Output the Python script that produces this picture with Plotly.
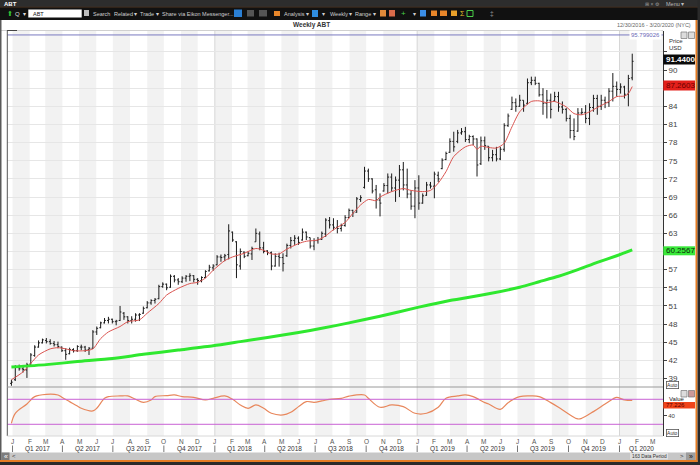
import pandas as pd
import plotly.graph_objects as go

W, H = 700, 465
def fx(p): return p / W
def fy(p): return 1 - p / H

# ---------------- data ----------------
first_week = "2016-12-30"
opens = [38.2, 38.8, 40.8, 40.6, 40.4, 41.4, 42.8, 44.2, 44.9, 45.3,
         45.1, 44.8, 44.6, 44.2, 43.6, 43.1, 43.8, 43.6, 44.2, 44.2,
         43.8, 44.0, 46.7, 47.4, 48.2, 48.6, 48.8, 48.4, 48.6, 49.8,
         49.2, 48.6, 48.8, 49.5, 49.8, 50.7, 51.5, 51.9, 52.2, 54.2,
         54.6, 54.1, 55.9, 55.3, 55.0, 55.6, 55.9, 56.0, 55.4, 55.2,
         55.7, 56.8, 57.3, 57.8, 59.1, 59.1, 59.5, 63.2, 61.6, 57.6,
         59.9, 59.3, 59.6, 61.6, 62.9, 60.6, 60.1, 59.8, 57.6, 59.2,
         59.0, 59.3, 61.0, 61.8, 62.2, 61.9, 63.2, 62.3, 60.9, 61.8,
         62.0, 62.9, 65.1, 64.4, 64.0, 63.8, 64.3, 65.6, 66.8, 66.5,
         68.6, 70.6, 73.3, 72.0, 70.2, 68.5, 70.0, 70.9, 72.3, 70.5,
         71.8, 73.5, 71.0, 69.5, 67.5, 70.5, 68.0, 69.3, 71.0, 70.8,
         72.6, 73.7, 75.2, 76.4, 78.2, 78.2, 79.6, 79.8, 78.5, 79.0,
         78.6, 74.5, 78.3, 77.4, 75.5, 76.0, 75.3, 76.9, 80.8, 83.5,
         84.6, 84.0, 85.0, 84.5, 87.9, 88.3, 87.8, 85.9, 84.5, 85.0,
         84.9, 85.6, 83.9, 83.5, 82.0, 80.0, 79.9, 82.9, 83.0, 82.0,
         83.8, 85.3, 84.0, 85.0, 84.6, 86.5, 87.3, 86.8, 87.2, 86.0,
         88.7]
highs = [38.8, 41.2, 41.3, 40.9, 41.6, 43.2, 44.5, 45.3, 45.6, 45.7,
         45.5, 45.2, 45.1, 44.3, 44.0, 44.1, 44.0, 44.5, 44.6, 44.4,
         44.2, 47.0, 47.6, 48.4, 49.0, 49.2, 48.9, 48.7, 51.0, 50.0,
         49.3, 49.3, 49.8, 49.8, 50.9, 51.8, 52.1, 52.3, 54.5, 54.9,
         54.7, 56.2, 56.1, 55.6, 55.9, 56.1, 56.4, 56.1, 55.6, 55.9,
         56.9, 57.8, 57.9, 59.4, 59.5, 59.6, 64.5, 63.3, 61.7, 60.5,
         60.0, 60.0, 60.8, 63.8, 63.3, 61.6, 60.2, 60.0, 59.7, 59.8,
         59.7, 61.3, 62.4, 62.7, 62.5, 63.8, 63.3, 62.3, 62.2, 62.4,
         63.3, 65.5, 65.7, 65.5, 65.2, 64.6, 66.0, 67.1, 66.9, 69.0,
         69.3, 74.0, 73.7, 72.1, 71.0, 69.6, 71.3, 72.9, 72.9, 72.4,
         74.3, 74.8, 73.7, 70.1, 71.8, 72.6, 69.6, 71.5, 71.5, 73.2,
         73.2, 75.4, 76.5, 78.7, 79.8, 80.1, 80.4, 80.6, 79.3, 79.2,
         78.7, 79.0, 79.0, 77.4, 76.8, 77.3, 77.3, 81.2, 82.8, 85.6,
         85.3, 85.9, 85.0, 88.6, 88.9, 88.9, 87.9, 87.0, 86.7, 86.1,
         86.4, 86.4, 84.8, 83.7, 82.6, 82.0, 83.7, 83.7, 84.2, 84.5,
         85.9, 85.9, 85.9, 85.6, 87.0, 89.5, 88.1, 87.8, 87.4, 89.2,
         92.7]
lows = [37.8, 38.6, 40.3, 40.0, 39.1, 41.2, 42.6, 44.1, 44.8, 44.8,
        44.6, 44.3, 44.0, 43.4, 42.1, 43.0, 43.3, 43.4, 43.7, 43.4,
        42.9, 43.9, 46.2, 47.3, 48.1, 48.1, 48.1, 47.8, 48.5, 48.7,
        48.1, 48.1, 48.4, 48.5, 49.7, 50.6, 51.2, 51.4, 52.1, 54.0,
        53.6, 54.0, 54.9, 54.5, 54.8, 55.0, 55.1, 54.9, 54.5, 54.9,
        55.6, 56.7, 56.8, 57.7, 58.3, 58.4, 58.7, 61.6, 55.6, 57.0,
        58.9, 59.2, 58.6, 61.6, 60.2, 59.7, 59.4, 56.9, 57.5, 57.5,
        56.7, 59.1, 60.5, 61.1, 61.1, 61.8, 61.9, 60.5, 60.2, 61.3,
        61.9, 62.4, 63.8, 63.5, 63.0, 63.3, 64.1, 65.5, 65.7, 66.4,
        68.2, 70.4, 71.5, 69.6, 67.1, 65.8, 69.9, 69.6, 69.9, 68.2,
        69.0, 70.1, 68.8, 66.9, 65.5, 66.9, 67.9, 69.2, 70.4, 68.8,
        71.5, 73.6, 75.1, 76.3, 76.5, 77.9, 79.3, 78.1, 77.9, 77.6,
        72.4, 74.3, 76.8, 74.9, 74.9, 74.9, 75.1, 76.5, 80.6, 83.4,
        83.1, 83.9, 83.1, 84.3, 87.5, 87.5, 85.6, 82.6, 82.0, 82.0,
        84.8, 83.1, 82.8, 81.5, 78.7, 78.4, 79.8, 82.6, 81.2, 80.9,
        83.1, 82.6, 83.4, 83.7, 83.9, 84.8, 85.6, 86.1, 85.3, 84.0,
        88.3]
closes = [38.4, 40.9, 40.6, 40.5, 41.3, 42.9, 44.2, 44.9, 45.4, 45.1,
          44.8, 44.6, 44.3, 43.6, 43.0, 43.8, 43.6, 44.3, 44.2, 43.7,
          44.0, 46.7, 47.3, 48.2, 48.6, 48.8, 48.4, 48.5, 50.0, 49.2,
          48.6, 48.8, 49.5, 49.6, 50.6, 51.5, 51.9, 52.1, 54.2, 54.6,
          54.0, 55.9, 55.3, 55.0, 55.6, 55.9, 56.0, 55.4, 55.2, 55.7,
          56.7, 57.4, 57.6, 59.1, 59.0, 59.3, 63.4, 61.9, 57.8, 60.0,
          59.2, 59.7, 60.5, 63.0, 60.6, 60.0, 59.8, 57.6, 59.2, 59.0,
          58.0, 61.0, 61.8, 62.2, 61.5, 63.2, 62.4, 60.9, 61.8, 62.0,
          63.0, 65.2, 64.4, 64.0, 63.8, 64.3, 65.6, 66.8, 66.4, 68.7,
          68.9, 73.3, 72.0, 70.0, 68.5, 68.0, 70.9, 72.3, 70.5, 71.8,
          73.5, 71.0, 69.5, 67.5, 70.5, 68.0, 69.2, 71.0, 70.8, 72.8,
          72.0, 75.1, 76.2, 78.2, 77.3, 79.6, 79.8, 78.5, 79.0, 78.6,
          74.3, 78.3, 77.5, 75.5, 76.0, 75.3, 76.9, 80.8, 82.4, 84.6,
          84.0, 85.0, 84.2, 87.9, 88.3, 87.8, 85.9, 84.5, 85.0, 83.5,
          85.6, 83.9, 83.5, 82.0, 80.0, 79.0, 82.9, 83.0, 82.0, 83.8,
          85.3, 84.0, 85.0, 84.6, 86.5, 87.3, 86.8, 87.2, 86.0, 88.6,
          91.44]

# fast moving average (red), sampled at week indices
ma_fast_week = [0, 3, 5, 7, 10, 12, 14, 16, 19, 21, 23, 25, 28, 30, 33, 35, 38, 40, 43, 46,
                48, 50, 52, 55, 57, 60, 63, 65, 67, 69, 71, 74, 76, 79, 81, 83, 86, 88, 90, 92,
                94, 95, 98, 101, 103, 106, 108, 110, 112, 114, 117, 119, 120, 121, 123, 125, 127, 129, 131, 134,
                136, 138, 140, 143, 145, 147, 149, 151, 154, 156, 158, 159, 160]
ma_fast_val = [38.8, 40.1, 41.5, 42.9, 43.9, 44.1, 43.9, 43.6, 43.6, 43.9, 45.6, 46.7, 47.6, 48.4, 48.7, 49.8, 51.4, 52.8, 53.9, 54.7,
               54.9, 55.6, 56.9, 58.5, 59.1, 59.7, 60.5, 60.2, 59.6, 59.6, 60.4, 61.3, 61.7, 61.9, 62.6, 63.6, 64.8, 66.3, 67.7, 68.6,
               68.4, 69.0, 69.9, 70.4, 70.1, 69.9, 70.1, 71.3, 73.2, 75.7, 77.3, 77.6, 76.9, 77.4, 77.2, 77.1, 77.9, 80.6, 83.1, 84.8,
               84.9, 84.6, 84.8, 83.9, 82.8, 82.6, 83.1, 83.8, 84.8, 85.6, 85.7, 86.1, 87.26]

# slow moving average (green)
ma_slow_week = [0, 9, 17, 26, 34, 43, 52, 59, 66, 74, 80, 87, 95, 105, 113, 123, 131, 136, 141, 146, 151, 156, 160]
ma_slow_val = [40.9, 41.3, 41.8, 42.3, 43.0, 43.7, 44.4, 45.1, 45.8, 46.6, 47.3, 48.2, 49.3, 50.8, 51.9, 53.0, 54.1, 55.0, 55.9, 57.0, 58.2, 59.3, 60.2567]

# oscillator (lower panel)
osc_week = [0, 1, 4, 6, 9, 12, 13, 15, 17, 18, 21, 22, 24, 25, 28, 30, 32, 34, 36, 37,
            40, 42, 44, 47, 50, 52, 55, 57, 59, 61, 63, 65, 67, 70, 72, 74, 76, 78, 80, 82,
            85, 87, 91, 92, 95, 98, 101, 104, 107, 110, 112, 115, 117, 119, 122, 123, 126, 128, 131, 134,
            136, 139, 141, 144, 146, 147, 150, 153, 155, 156, 158, 160]
osc_val = [22.4, 46.4, 68.8, 86.4, 92.0, 90.4, 84.8, 74.4, 64.0, 58.4, 52.0, 58.4, 82.4, 86.4, 88.0, 88.0, 80.0, 72.8, 78.4, 86.4,
           88.8, 90.4, 86.4, 84.8, 78.4, 82.4, 88.0, 80.0, 66.4, 58.4, 66.4, 58.4, 46.4, 42.4, 48.8, 62.4, 74.4, 72.8, 76.0, 80.0,
           82.4, 87.6, 90.4, 82.4, 60.8, 66.4, 62.4, 46.4, 46.4, 60.8, 82.4, 88.0, 90.4, 86.4, 72.0, 68.8, 56.0, 72.0, 86.4, 88.0,
           86.4, 72.0, 60.8, 42.4, 32.8, 34.4, 50.4, 68.8, 80.8, 84.8, 78.4, 77.2]
osc_levels = [80, 20]

top_level = 95.799026
last_price = "91.4400"
ma_fast_label = "87.2603"
ma_slow_label = "60.2567"
osc_label = "77.226"
price_ticks = list(range(39, 94, 3))
hidden_ticks = {60, 87, 93}
year_starts = ["2018-01-01", "2019-01-01", "2020-01-01"]

# ---------------- build ----------------
dates = pd.date_range(first_week, periods=len(closes), freq="7D")
def wk(idx):
    return [dates[i] for i in idx]

x_start = pd.Timestamp("2016-12-22 14:00")
x_end = pd.Timestamp("2020-03-19 12:00")
months = pd.date_range("2017-01-01", "2020-03-01", freq="MS")
quarters = pd.date_range("2017-01-01", "2020-01-01", freq="QS")

fig = go.Figure()
fig.add_trace(go.Ohlc(x=dates, open=opens, high=highs, low=lows, close=closes,
                      increasing=dict(line=dict(color="#1a1a1a", width=1)),
                      decreasing=dict(line=dict(color="#1a1a1a", width=1)),
                      tickwidth=0.35, xaxis="x", yaxis="y", hoverinfo="skip", showlegend=False))
fig.add_trace(go.Scatter(x=wk(ma_fast_week), y=ma_fast_val, mode="lines",
                         line=dict(color="#d9534f", width=1, shape="spline", smoothing=0.7),
                         xaxis="x", yaxis="y", hoverinfo="skip"))
fig.add_trace(go.Scatter(x=wk(ma_slow_week), y=ma_slow_val, mode="lines",
                         line=dict(color="#2fe82f", width=3, shape="spline", smoothing=0.6),
                         xaxis="x", yaxis="y", hoverinfo="skip"))
fig.add_trace(go.Scatter(x=wk(osc_week), y=osc_val, mode="lines",
                         line=dict(color="#e8875c", width=1.2, shape="spline", smoothing=1.0),
                         xaxis="x2", yaxis="y2", hoverinfo="skip"))

shapes = []
# month stripes
for m in months:
    if m.month % 2 == 1:
        m_end = min(m + pd.offsets.MonthBegin(1), x_end)
        shapes.append(dict(type="rect", xref="x", yref="paper", x0=str(m), x1=str(m_end),
                           y0=fy(436), y1=fy(31), fillcolor="#f2f2f2", line_width=0, layer="below"))
for ys in year_starts:
    shapes.append(dict(type="line", xref="x", yref="paper", x0=ys, x1=ys, y0=fy(436), y1=fy(31),
                       line=dict(color="#d6d6d6", width=1), layer="below"))
# level lines
shapes.append(dict(type="line", xref="paper", yref="y", x0=fx(7.3), x1=fx(663), y0=top_level, y1=top_level,
                   line=dict(color="#7a7ac0", width=1)))
for lv in osc_levels:
    shapes.append(dict(type="line", xref="paper", yref="y2", x0=fx(7.3), x1=fx(663), y0=lv, y1=lv,
                       line=dict(color="#c862d4", width=1)))
# plot frame lines
def hline(y, x0, x1, color, w=1):
    shapes.append(dict(type="line", xref="paper", yref="paper", x0=fx(x0), x1=fx(x1), y0=fy(y), y1=fy(y),
                       line=dict(color=color, width=w)))
def vline(x, y0, y1, color, w=1):
    shapes.append(dict(type="line", xref="paper", yref="paper", x0=fx(x), x1=fx(x), y0=fy(y0), y1=fy(y1),
                       line=dict(color=color, width=w)))
def rect(x0, y0, x1, y1, fill, line=None, lw=0):
    shapes.append(dict(type="rect", xref="paper", yref="paper", x0=fx(x0), x1=fx(x1), y0=fy(y1), y1=fy(y0),
                       fillcolor=fill, line=dict(color=line or fill, width=lw)))

hline(30.5, 0, 663, "#d0d0d0")
hline(30.5, 7, 17, "#444")
vline(7.3, 30.5, 436, "#555")
hline(387, 7.3, 663, "#9a9a9a")
hline(436, 7.3, 663, "#d8d8d8")
# quarter separators
for q in quarters:
    shapes.append(dict(type="line", xref="x", yref="paper", x0=str(q), x1=str(q), y0=fy(452), y1=fy(445.5),
                       line=dict(color="#777", width=1)))

# window chrome
rect(0, 0, 700, 7, "#2d2d2d")
rect(0, 7, 700, 20, "#111111")
hline(7.2, 0, 700, "#4d3420", 0.8)
rect(28.3, 9.6, 81.7, 17.4, "#ffffff")
rect(84, 10, 89, 16, "#bdbdbd")
rect(234, 9.5, 242, 17, "#2a7fd4")
rect(247, 10, 254, 16.5, "#555")
rect(259, 10, 267, 16.5, "#555")
rect(274, 11, 280, 16, "#e8862a")
rect(312, 10, 318, 17, "#2f8de0")
rect(380, 10, 386, 16.5, "#e08a3a")
rect(389, 10, 395, 16.5, "#d86a4a")
rect(420, 10, 426, 16.5, "#3a8ee6")
rect(431, 10.5, 437, 16, "#e8862a")
rect(440, 10.5, 447, 16, "#e8862a")
rect(451, 10.5, 457, 16, "#e8a02a")
rect(467, 10.5, 473, 16.5, "#111111", "#4ad04a", 1)
# right/bottom borders
rect(1.5, 452.5, 695.5, 460, "#c7c7c7")
rect(1.5, 452.5, 9.5, 460, "#7d7d7d")
rect(630, 453, 668, 459.5, "#dedede")
rect(686, 452.5, 695.5, 460, "#9d9d9d")
rect(0, 20, 1.5, 460, "#5a5a5a")
rect(695.5, 20, 697.5, 462, "#e57c22")
rect(697.5, 0, 700, 465, "#2a2a2a")
rect(0, 460, 697.5, 462, "#e57c22")
rect(0, 462, 700, 465, "#2a2a2a")
# value label boxes
rect(663.3, 54.5, 695, 64.5, "#0a0a0a")
rect(663.3, 80.5, 695, 90.5, "#e3201b")
rect(663.3, 246.3, 695, 255.3, "#3ae83a")
rect(663.3, 402, 695, 408.5, "#f0441a")
# small panel icons
for yy in (32, 390.5):
    rect(681, yy, 687, yy + 6.5, "#dcdcdc", "#777", 0.7)
rect(688.5, 32, 694.5, 38.5, "#dcdcdc", "#777", 0.7)
rect(688.5, 390.5, 694.5, 397, "#c99", "#777", 0.7)

ann = []
def txt(x, y, s, size=6.5, color="#ccc", anchor="left", bold=False, bg=None, border=None, xref="paper"):
    d = dict(x=x if xref != "paper" else fx(x), y=fy(y), xref=xref, yref="paper", text=f"<b>{s}</b>" if bold else s,
             showarrow=False, xanchor=anchor, yanchor="middle",
             font=dict(size=size, color=color, family="Liberation Sans"))
    if bg:
        d["bgcolor"] = bg
    if border:
        d.update(bordercolor=border, borderwidth=0.8, borderpad=0.3)
    ann.append(d)

# toolbar texts
txt(2, 3.6, "ABT", 6, "#ffffff", bold=True)
txt(664, 3.6, "Menu ▾", 5.5, "#bbbbbb")
txt(643, 3.6, "⊞ × ⚙", 5, "#999999")
txt(4.5, 13.5, "⬆", 7, "#34c834")
txt(13, 13.5, "Q", 6, "#dddddd")
txt(20.5, 13.5, "▾", 5.5, "#dddddd")
txt(31, 13.5, "ABT", 5.5, "#111111")
txt(91, 13.5, "Search", 5.5, "#cfcfcf")
txt(112, 13.5, "Related ▾", 5.5, "#cfcfcf")
txt(138, 13.5, "Trade ▾", 5.5, "#cfcfcf")
txt(160, 13.5, "Share via Eikon Messenger...", 5.5, "#cfcfcf")
txt(282, 13.5, "Analysis ▾", 5.5, "#cfcfcf")
txt(320, 13.5, "▾", 5.5, "#cfcfcf")
txt(328, 13.5, "Weekly ▾", 5.5, "#cfcfcf")
txt(353, 13.5, "Range ▾", 5.5, "#cfcfcf")
txt(399, 13.5, "+", 8, "#46d046")
txt(411, 13.5, "▾", 5.5, "#cfcfcf")
txt(458, 13.5, "Σ", 7, "#e8c02a")
txt(488, 13.5, "‡", 6.5, "#9a9a9a")

# chart header
txt(311, 25, "Weekly ABT", 6.5, "#333333", anchor="center", bold=True)
txt(693, 25, "12/30/2016 - 3/20/2020 (NYC)", 5.5, "#666666", anchor="right")
txt(662, 34.5, "95.799026", 6, "#6a6ab8", anchor="right", bg="#ffffff")
txt(666.5, 41.5, "Price", 6, "#333333")
txt(666.5, 48.5, "USD", 6, "#333333")
txt(664, 59.5, last_price, 8, "#ffffff", bold=True)
txt(664, 85.5, ma_fast_label, 8, "#6a0000")
txt(664, 250.8, ma_slow_label, 8, "#0a2a0a")
txt(666, 384.5, "Auto", 5, "#333333", bg="#ffffff", border="#555555")
txt(666.5, 398.8, "Value", 6, "#222222")
txt(664, 405.3, osc_label, 6, "#5a0000")
txt(666, 432.8, "Auto", 5, "#333333", bg="#ffffff", border="#555555")
# scrollbar texts
txt(5.5, 456.2, "«", 7, "#ffffff", anchor="center")
txt(14, 456.2, "<", 6, "#333333", anchor="center")
txt(649, 456.2, "163 Data Period", 4.8, "#333333", anchor="center")
txt(681.5, 456.2, ">", 6, "#333333", anchor="center")
txt(690.8, 456.2, "»", 7, "#111111", anchor="center")

# month and quarter labels
for m in months:
    txt(str(m), 441.7, m.strftime("%b")[0], 6.5, "#555555", anchor="center", xref="x")
for q in quarters:
    q_end = min(q + pd.offsets.QuarterBegin(1, startingMonth=1), x_end)
    mid = q + (q_end - q) / 2
    txt(str(mid), 449, f"Q{q.quarter} {q.year}", 6.5, "#333333", anchor="center", xref="x")

fig.update_layout(
    width=W, height=H, margin=dict(l=0, r=0, t=0, b=0),
    paper_bgcolor="#ffffff", plot_bgcolor="rgba(0,0,0,0)", showlegend=False,
    font=dict(family="Liberation Sans", size=8, color="#444"),
    xaxis=dict(domain=[fx(7.3), fx(663)], range=[x_start, x_end], type="date", anchor="y",
               showticklabels=False, showgrid=False, zeroline=False, showline=False,
               rangeslider=dict(visible=False)),
    xaxis2=dict(domain=[fx(7.3), fx(663)], range=[x_start, x_end], type="date", anchor="y2", matches="x",
                showticklabels=False, showgrid=False, zeroline=False, showline=False),
    yaxis=dict(domain=[fy(387), fy(31)], range=[37.6, 96.45], side="right", anchor="x",
               tickvals=price_ticks, ticktext=["" if t in hidden_ticks else str(t) for t in price_ticks],
               showgrid=True, gridcolor="#e6e6e6", gridwidth=1, zeroline=False,
               showline=True, linecolor="#333", linewidth=1, ticks="outside", ticklen=3, tickcolor="#444",
               tickfont=dict(size=8, color="#444")),
    yaxis2=dict(domain=[fy(436), fy(387)], range=[-8.1, 109.5], side="right", anchor="x2",
                tickvals=[40], ticktext=["40"], showgrid=False, zeroline=False,
                showline=True, linecolor="#333", linewidth=1, ticks="outside", ticklen=3, tickcolor="#444",
                tickfont=dict(size=6, color="#444")),
    shapes=shapes, annotations=ann,
)
fig.write_html("out.html", config={"displayModeBar": False},
               post_script="document.body.style.margin='0';document.body.style.overflow='hidden';")
